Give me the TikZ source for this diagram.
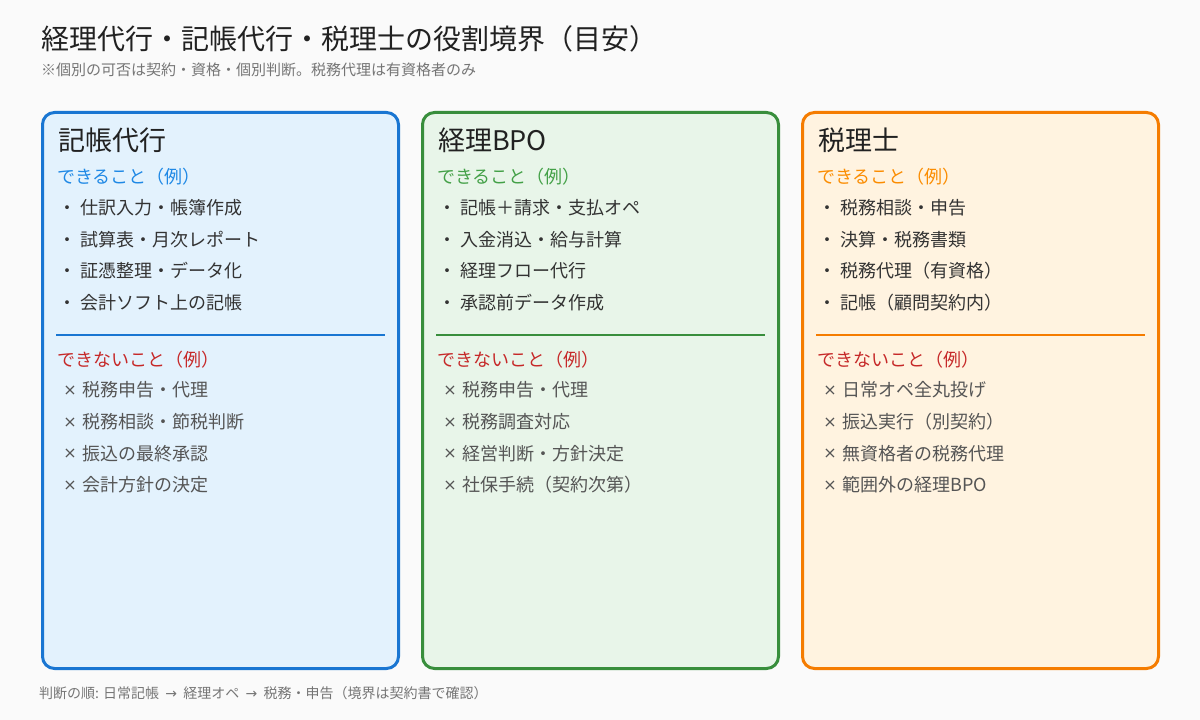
\documentclass[tikz,border=0pt]{standalone}
\usepackage{fontspec}
\setmainfont{Noto Sans CJK JP}
\newfontfamily\symfont{DejaVu Sans}
\definecolor{bgc}{HTML}{FAFAFA}
\definecolor{titlec}{HTML}{212121}
\definecolor{subc}{HTML}{757575}
\definecolor{itemc}{HTML}{333333}
\definecolor{ngc}{HTML}{555555}
\definecolor{redc}{HTML}{C62828}
\definecolor{blueb}{HTML}{1976D2}
\definecolor{bluef}{HTML}{E3F2FD}
\definecolor{blueh}{HTML}{1E88E5}
\definecolor{greenb}{HTML}{388E3C}
\definecolor{greenf}{HTML}{E8F5E9}
\definecolor{greenh}{HTML}{43A047}
\definecolor{orangeb}{HTML}{F57C00}
\definecolor{orangef}{HTML}{FFF3E0}
\definecolor{orangeh}{HTML}{FB8C00}
\tikzset{
  txt/.style={inner sep=0pt, outer sep=0pt, anchor=base west},
  maintitle/.style={txt, text=titlec, font=\fontsize{28bp}{32bp}\selectfont},
  subtitle/.style={txt, text=subc, font=\fontsize{15bp}{18bp}\selectfont},
  boxtitle/.style={txt, text=titlec, font=\fontsize{27bp}{30bp}\selectfont},
  headst/.style={txt, font=\fontsize{18bp}{22bp}\selectfont},
  itemst/.style={txt, text=itemc, font=\fontsize{18bp}{22bp}\selectfont},
  ngst/.style={txt, text=ngc, font=\fontsize{18bp}{22bp}\selectfont},
  markst/.style={inner sep=0pt, outer sep=0pt, anchor=base, font=\fontsize{18bp}{22bp}\selectfont},
  xmarkst/.style={inner sep=0pt, outer sep=0pt, anchor=base, font=\symfont\fontsize{16bp}{20bp}\selectfont},
  footst/.style={txt, text=subc, font=\fontsize{14bp}{17bp}\selectfont},
  rolebox/.style={line width=3bp, rounded corners=12bp},
  sepline/.style={line width=2bp}
}
\newcommand\footarrow{\hspace{6.3bp}{\symfont →}\hspace{6.3bp}}
\newcommand\mkrolebox[8]{%
  \draw[rolebox, draw=#3, fill=#4] ({#2+1.5},112.5) rectangle ({#2+357.5},668.5);
  \node[boxtitle] (#1-title) at ({#2+17},150.3) {#6};
  \node[headst, text=#5] (#1-can) at ({#2+16},183.3) {できること（例）};
  \foreach \t [count=\i] in {#7} {
    \node[markst, text=itemc] (#1-cm\i) at ({#2+26},{214.3+31.7*(\i-1)}) {・};
    \node[itemst] (#1-ci\i) at ({#2+39},{214.3+31.7*(\i-1)}) {\t};
  }
  \coordinate (#1-sl) at ({#2+15},335);
  \coordinate (#1-sr) at ({#2+344},335);
  \draw[sepline, draw=#3] (#1-sl) -- (#1-sr);
  \node[headst, text=redc] (#1-cant) at ({#2+16},366.3) {できないこと（例）};
  \foreach \t [count=\i] in {#8} {
    \node[xmarkst, text=ngc] (#1-nm\i) at ({#2+29},{395.3+31.7*(\i-1)}) {×};
    \node[ngst] (#1-ni\i) at ({#2+41.5},{396.8+31.7*(\i-1)}) {\t};
  }
}
\begin{document}
\begin{tikzpicture}[x=1bp,y=-1bp]
  \fill[bgc] (0,0) rectangle (1200,720);
  \useasboundingbox (0,0) rectangle (1200,720);
  \node[maintitle] (title) at (41,49.1) {経理代行・記帳代行・税理士の役割境界（目安）};
  \node[subtitle] (sub) at (41,75.7) {※個別の可否は契約・資格・個別判断。税務代理は有資格者のみ};
  \mkrolebox{b1}{41}{blueb}{bluef}{blueh}{記帳代行}%
    {仕訳入力・帳簿作成,試算表・月次レポート,証憑整理・データ化,会計ソフト上の記帳}%
    {税務申告・代理,税務相談・節税判断,振込の最終承認,会計方針の決定}
  \mkrolebox{b2}{421}{greenb}{greenf}{greenh}{経理BPO}%
    {記帳＋請求・支払オペ,入金消込・給与計算,経理フロー代行,承認前データ作成}%
    {税務申告・代理,税務調査対応,経営判断・方針決定,社保手続（契約次第）}
  \mkrolebox{b3}{801}{orangeb}{orangef}{orangeh}{税理士}%
    {税務相談・申告,決算・税務書類,税務代理（有資格）,記帳（顧問契約内）}%
    {日常オペ全丸投げ,振込実行（別契約）,無資格者の税務代理,範囲外の経理BPO}
  \node[footst] (foot) at (39,698.8) {判断の順: 日常記帳\footarrow 経理オペ\footarrow 税務・申告（境界は契約書で確認）};
\end{tikzpicture}
\end{document}
